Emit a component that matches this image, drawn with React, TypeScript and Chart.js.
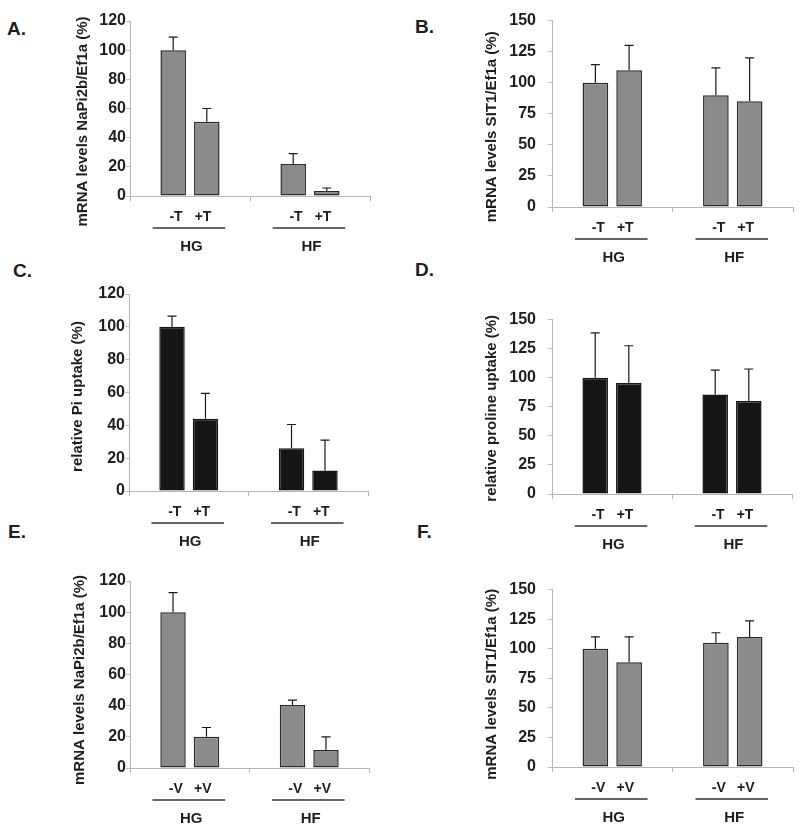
import React, { useEffect, useRef } from 'react';
import { Chart, registerables } from 'chart.js';

Chart.register(...registerables);
Chart.defaults.font.family = '"Liberation Sans", Arial, Helvetica, sans-serif';

// ---------- data ----------
const groups = ['HG', 'HF'];
const treatT = ['-T', '+T'];
const treatV = ['-V', '+V'];
const ticks120 = [0, 20, 40, 60, 80, 100, 120];
const ticks150 = [0, 25, 50, 75, 100, 125, 150];

// A: mRNA NaPi2b, thyroid
const aMinus = [100, 22];
const aMinusErr = [9, 7];
const aPlus = [51, 3.5];
const aPlusErr = [9, 2];
// B: mRNA SIT1, thyroid
const bMinus = [100, 90];
const bMinusErr = [14.5, 22];
const bPlus = [110, 85];
const bPlusErr = [20, 35];
// C: Pi uptake
const cMinus = [100, 26];
const cMinusErr = [6.5, 14.5];
const cPlus = [44, 12.5];
const cPlusErr = [15.5, 18.5];
// D: proline uptake
const dMinus = [100, 85.5];
const dMinusErr = [38.5, 21];
const dPlus = [95.5, 80];
const dPlusErr = [32, 27.5];
// E: mRNA NaPi2b, V
const eMinus = [100, 40.5];
const eMinusErr = [12.5, 3];
const ePlus = [20, 11.5];
const ePlusErr = [6, 8.5];
// F: mRNA SIT1, V
const fMinus = [100, 105];
const fMinusErr = [10, 8.5];
const fPlus = [88.5, 110];
const fPlusErr = [21.5, 13.5];

const GRAY = '#8b8b8b';
const BLACK = '#151515';
const TEXT = '#1e1e1e';

type Panel = {
  letter: string;
  title: string;
  treat: string[];
  s1: number[]; e1: number[]; s2: number[]; e2: number[];
  ticks: number[];
  fill: string; border: string;
  axisX: number; topY: number; bottomY: number; rightX: number;
  tickPad: number; titleDx: number; titleDy: number;
  letterX: number; letterBase: number;
};

const panels: Panel[] = [
  { letter: 'A.', title: 'mRNA levels NaPi2b/Ef1a (%)', treat: treatT, s1: aMinus, e1: aMinusErr, s2: aPlus, e2: aPlusErr, ticks: ticks120, fill: GRAY, border: '#2a2a2a',
    axisX: 130, topY: 21, bottomY: 196, rightX: 370, tickPad: 0, titleDx: 47, titleDy: 13, letterX: 7, letterBase: 35 },
  { letter: 'B.', title: 'mRNA levels SIT1/Ef1a (%)', treat: treatT, s1: bMinus, e1: bMinusErr, s2: bPlus, e2: bPlusErr, ticks: ticks150, fill: GRAY, border: '#2a2a2a',
    axisX: 552, topY: 14, bottomY: 207, rightX: 793, tickPad: 12, titleDx: 60.5, titleDy: 13, letterX: 415, letterBase: 33 },
  { letter: 'C.', title: 'relative Pi uptake (%)', treat: treatT, s1: cMinus, e1: cMinusErr, s2: cPlus, e2: cPlusErr, ticks: ticks120, fill: BLACK, border: BLACK,
    axisX: 129, topY: 294, bottomY: 491, rightX: 368, tickPad: 0, titleDx: 51, titleDy: 4, letterX: 13, letterBase: 277 },
  { letter: 'D.', title: 'relative proline uptake (%)', treat: treatT, s1: dMinus, e1: dMinusErr, s2: dPlus, e2: dPlusErr, ticks: ticks150, fill: BLACK, border: BLACK,
    axisX: 552, topY: 313, bottomY: 494, rightX: 792, tickPad: 12, titleDx: 60, titleDy: 1.5, letterX: 415, letterBase: 276 },
  { letter: 'E.', title: 'mRNA levels NaPi2b/Ef1a (%)', treat: treatV, s1: eMinus, e1: eMinusErr, s2: ePlus, e2: ePlusErr, ticks: ticks120, fill: GRAY, border: '#2a2a2a',
    axisX: 130, topY: 581, bottomY: 768, rightX: 369, tickPad: 0, titleDx: 50, titleDy: 5.5, letterX: 8, letterBase: 538 },
  { letter: 'F.', title: 'mRNA levels SIT1/Ef1a (%)', treat: treatV, s1: fMinus, e1: fMinusErr, s2: fPlus, e2: fPlusErr, ticks: ticks150, fill: GRAY, border: '#2a2a2a',
    axisX: 552, topY: 583, bottomY: 767, rightX: 793, tickPad: 12, titleDx: 60.5, titleDy: 6, letterX: 417, letterBase: 538 },
];

const PAD_LEFT = 90;
const PAD_TOP = 15;
const PAD_RIGHT = 5;
const X_AXIS_H = 65;

function makePlugin(p: Panel) {
  const errs = [p.e1, p.e2];
  return {
    id: 'annot' + p.letter,
    afterDatasetsDraw(chart: any) {
      const ctx = chart.ctx;
      const ys = chart.scales.y;
      ctx.save();
      ctx.strokeStyle = '#1a1a1a';
      ctx.lineWidth = 1.2;
      chart.data.datasets.forEach((ds: any, di: number) => {
        const meta = chart.getDatasetMeta(di);
        meta.data.forEach((bar: any, i: number) => {
          const v = ds.data[i];
          const yTop = ys.getPixelForValue(v + errs[di][i]);
          ctx.beginPath();
          ctx.moveTo(bar.x, bar.y);
          ctx.lineTo(bar.x, yTop);
          ctx.moveTo(bar.x - 4.5, yTop);
          ctx.lineTo(bar.x + 4.5, yTop);
          ctx.stroke();
        });
      });
      ctx.restore();
    },
    afterDraw(chart: any) {
      const ctx = chart.ctx;
      const area = chart.chartArea;
      const xs = chart.scales.x;
      ctx.save();
      // y-axis title
      ctx.fillStyle = TEXT;
      ctx.font = 'bold 15px "Liberation Sans", Arial, sans-serif';
      ctx.textAlign = 'center';
      ctx.textBaseline = 'middle';
      ctx.translate(area.left - p.titleDx, (area.top + area.bottom) / 2 + p.titleDy);
      ctx.rotate(-Math.PI / 2);
      ctx.fillText(p.title, 0, 0);
      ctx.restore();

      ctx.save();
      const base = area.bottom;
      groups.forEach((g, i) => {
        const cx = xs.getPixelForValue(i);
        ctx.fillStyle = TEXT;
        ctx.textAlign = 'center';
        ctx.textBaseline = 'middle';
        ctx.font = 'bold 14px "Liberation Sans", Arial, sans-serif';
        ctx.fillText(p.treat[0], cx - 14, base + 21.5);
        ctx.fillText(p.treat[1], cx + 13, base + 21.5);
        ctx.strokeStyle = '#333';
        ctx.lineWidth = 1.3;
        ctx.beginPath();
        ctx.moveTo(cx - 37.3, base + 32);
        ctx.lineTo(cx + 35.3, base + 32);
        ctx.stroke();
        ctx.font = 'bold 15px "Liberation Sans", Arial, sans-serif';
        ctx.fillText(g, cx + 1.5, base + 50.5);
      });
      ctx.restore();
    },
  };
}

function PanelChart({ p }: { p: Panel }) {
  const ref = useRef<HTMLCanvasElement | null>(null);
  const width = p.rightX - p.axisX + PAD_LEFT + PAD_RIGHT;
  const height = p.bottomY - p.topY + PAD_TOP + X_AXIS_H;
  useEffect(() => {
    if (!ref.current) return;
    const ticks = p.ticks;
    const chart = new Chart(ref.current, {
      type: 'bar',
      data: {
        labels: groups,
        datasets: [
          { label: p.treat[0], data: p.s1, backgroundColor: p.fill, borderColor: p.border, borderWidth: 1.5, borderSkipped: false,
            categoryPercentage: 0.56, barPercentage: 0.76 },
          { label: p.treat[1], data: p.s2, backgroundColor: p.fill, borderColor: p.border, borderWidth: 1.5, borderSkipped: false,
            categoryPercentage: 0.56, barPercentage: 0.76 },
        ],
      },
      options: {
        responsive: false,
        animation: false,
        devicePixelRatio: 1,
        layout: { padding: { left: 0, top: PAD_TOP, right: PAD_RIGHT, bottom: 0 } },
        plugins: { legend: { display: false }, tooltip: { enabled: false }, title: { display: false } },
        scales: {
          x: {
            type: 'category',
            offset: true,
            grid: { display: true, offset: true, drawOnChartArea: false, drawTicks: true, tickLength: 5, color: '#b5b5b5' },
            border: { display: true, color: '#b5b5b5', width: 1 },
            ticks: { display: false },
            afterFit: (s: any) => { s.height = X_AXIS_H; },
          },
          y: {
            min: ticks[0],
            max: ticks[ticks.length - 1],
            ticks: {
              stepSize: ticks[1] - ticks[0],
              padding: p.tickPad,
              color: TEXT,
              font: { size: 16, weight: 'bold' },
              autoSkip: false,
            },
            grid: { display: true, drawOnChartArea: false, drawTicks: true, tickLength: 4, color: '#c0c0c0' },
            border: { display: true, color: '#b5b5b5', width: 1 },
            afterFit: (s: any) => { s.width = PAD_LEFT; },
          },
        },
      } as any,
      plugins: [makePlugin(p)],
    });
    return () => chart.destroy();
  }, []);
  return (
    <canvas
      ref={ref}
      width={width}
      height={height}
      style={{ position: 'absolute', left: p.axisX - PAD_LEFT, top: p.topY - PAD_TOP, width, height }}
    />
  );
}

export default function App() {
  return (
    <div style={{ position: 'absolute', left: 0, top: 0, width: 800, height: 831, background: '#fff', overflow: 'hidden' }}>
      {panels.map((p) => (
        <React.Fragment key={p.letter}>
          <div
            style={{
              position: 'absolute',
              left: p.letterX,
              top: p.letterBase - 16,
              fontFamily: '"Liberation Sans", Arial, sans-serif',
              fontWeight: 'bold',
              fontSize: 19,
              lineHeight: '19px',
              color: TEXT,
            }}
          >
            {p.letter}
          </div>
          <PanelChart p={p} />
        </React.Fragment>
      ))}
    </div>
  );
}
